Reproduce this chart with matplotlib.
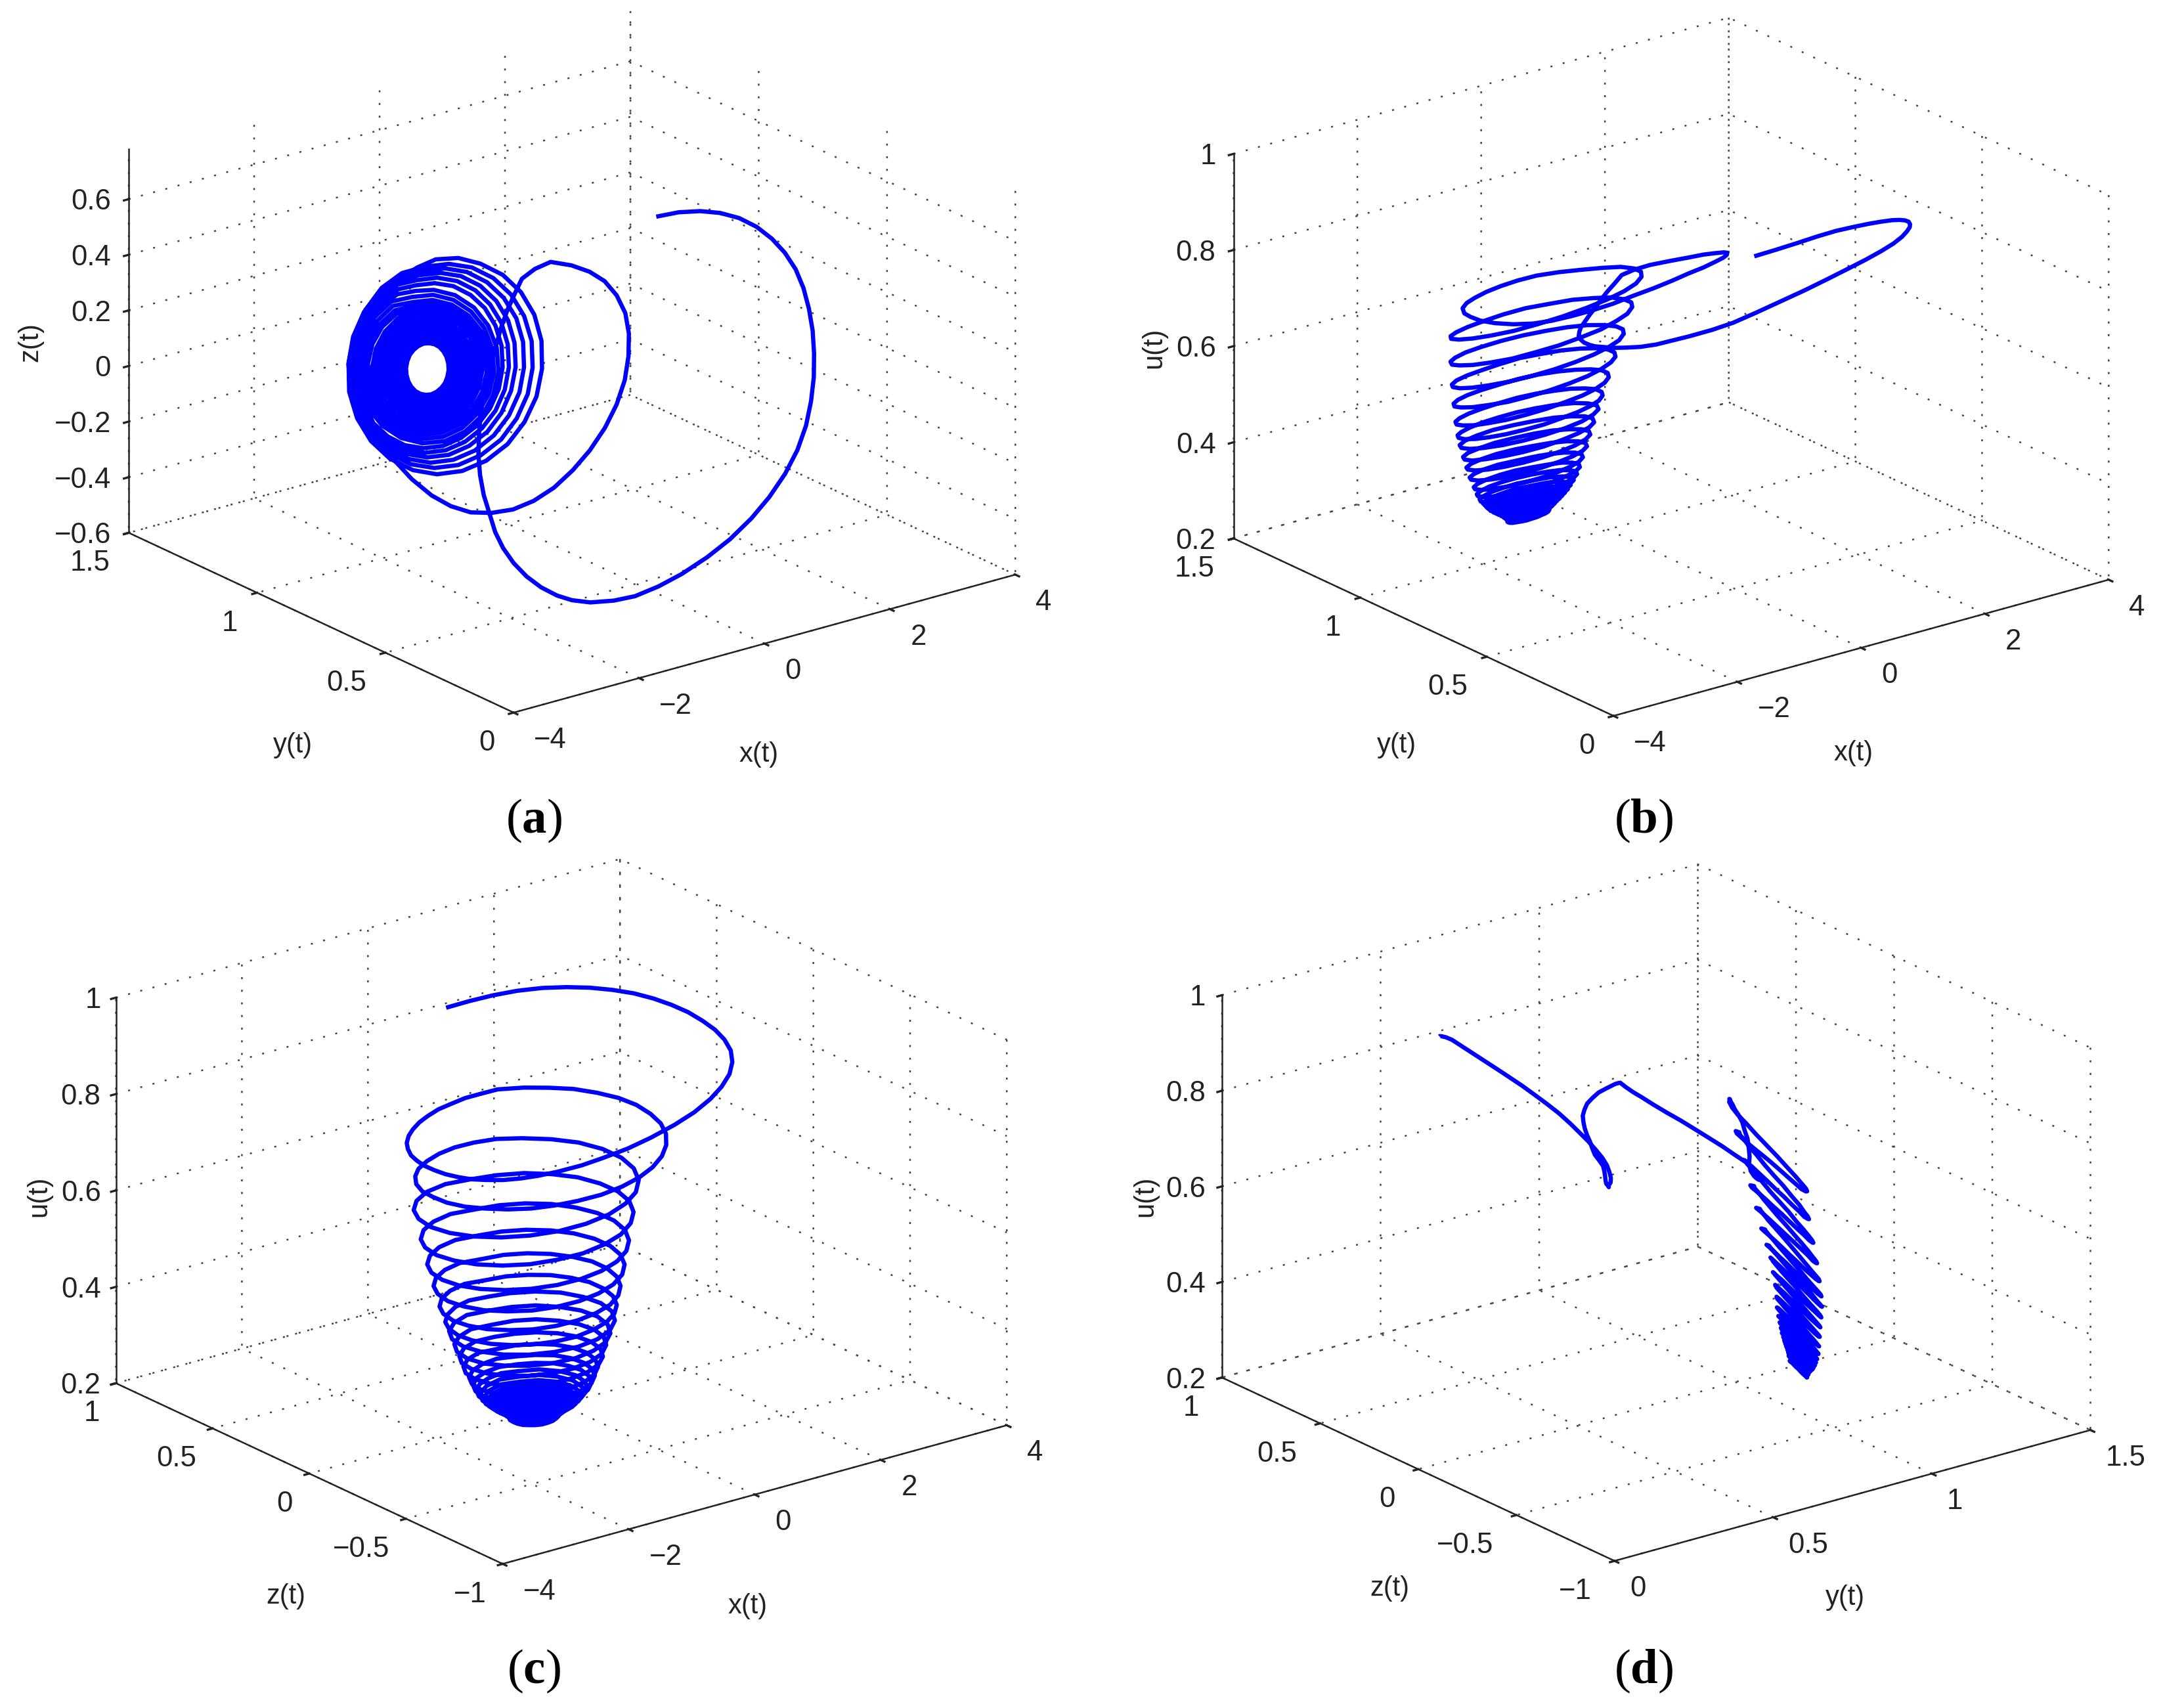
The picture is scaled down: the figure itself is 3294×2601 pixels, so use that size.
import matplotlib
matplotlib.use('Agg')
import matplotlib.pyplot as plt
from mpl_toolkits.mplot3d import Axes3D, proj3d

plt.rcParams['font.family'] = ['Liberation Sans', 'DejaVu Sans']
plt.rcParams['mathtext.fontset'] = 'custom'
plt.rcParams['mathtext.rm'] = 'Liberation Serif'
plt.rcParams['mathtext.bf'] = 'Liberation Serif:bold'

x_t = [.32,.67,1.0,1.31,1.6,1.85,2.06,2.24,2.38,2.475,2.53,2.56,2.55,2.505,2.42,2.29,2.1,1.855,1.55,1.215,.82,.405,-.05,-.465,-.88,-1.205,-1.55,-1.80,-2.0,-2.18,-2.32,-2.425,-2.49,-2.535,-2.54,-2.525,-2.47,-2.385,-2.26,-2.11,-1.92,-1.705,-1.47,-1.22,-.95,-.67,-.39,-.11,.17,
 .49,.774,1.01,1.195,1.32,1.369,1.35,1.27,1.12,.913,.65,.353,.02,-.326,-.675,-1.02,-1.33,-1.599,-1.83,-2.021,-2.15,-2.223,-2.22,-2.175,-2.06,-1.883,-1.66,-1.391,-1.09,-.777,-.45,-.13,
 .174,.475,.699,.831,.863,.79,.62,.363,.037,-.335,-.729,-1.118,-1.474,-1.775,-1.999,-2.131,-2.163,-2.09,-1.92,-1.663,-1.337,-.965,-.571,
 -.2,.139,.424,.636,.759,.788,.718,.554,.309,-.001,-.356,-.73,-1.1,-1.439,-1.724,-1.936,-2.059,-2.088,-2.018,-1.854,-1.609,-1.299,-.944,-.57,
 -.223,.099,.368,.569,.687,.713,.646,.491,.258,-.036,-.372,-.727,-1.078,-1.399,-1.668,-1.869,-1.987,-2.013,-1.946,-1.791,-1.558,-1.264,-.928,-.573,
 -.245,.058,.313,.502,.613,.638,.574,.427,.208,-.07,-.389,-.725,-1.055,-1.358,-1.613,-1.802,-1.913,-1.938,-1.874,-1.727,-1.508,-1.23,-.911,-.575,
 -.268,.021,.262,.441,.547,.57,.511,.372,.164,-.099,-.401,-.719,-1.033,-1.321,-1.562,-1.741,-1.847,-1.87,-1.811,-1.672,-1.464,-1.201,-.899,-.581,
 -.29,-.018,.21,.381,.481,.505,.448,.318,.121,-.128,-.412,-.713,-1.01,-1.282,-1.51,-1.681,-1.781,-1.805,-1.748,-1.618,-1.421,-1.172,-.888,-.587,
 -.308,-.004,.237,.391,.444,.39,.233,-.01,-.315,-.654,-.992,-1.296,-1.537,-1.691,-1.744,-1.69,-1.533,-1.29,-.985,-.646,
 -.326,-.039,.189,.335,.383,.331,.183,-.047,-.335,-.655,-.974,-1.261,-1.489,-1.635,-1.683,-1.631,-1.483,-1.253,-.965,-.646,
 -.344,-.073,.143,.28,.327,.277,.138,-.08,-.352,-.655,-.956,-1.227,-1.443,-1.58,-1.627,-1.577,-1.438,-1.22,-.948,-.646,
 -.362,-.106,.099,.229,.273,.228,.095,-.109,-.367,-.653,-.938,-1.195,-1.399,-1.529,-1.573,-1.528,-1.395,-1.191,-.933,-.647,
 -.38,-.137,.056,.179,.221,.178,.054,-.139,-.382,-.651,-.92,-1.163,-1.356,-1.479,-1.521,-1.478,-1.354,-1.161,-.918,-.649,
 -.394,-.165,.019,.133,.174,.133,.015,-.167,-.397,-.651,-.907,-1.135,-1.319,-1.433,-1.474,-1.433,-1.315,-1.133,-.903,-.649,
 -.407,-.191,-.02,.09,.127,.088,-.023,-.196,-.412,-.653,-.893,-1.109,-1.28,-1.39,-1.427,-1.388,-1.277,-1.104,-.888,-.647,
 -.425,-.178,-.004,.073,.039,-.099,-.322,-.594,-.875,-1.122,-1.296,-1.373,-1.339,-1.201,-.978,-.706,
 -.439,-.207,-.045,.026,-.007,-.136,-.344,-.599,-.862,-1.093,-1.255,-1.326,-1.294,-1.164,-.956,-.701,
 -.452,-.238,-.087,-.021,-.052,-.173,-.367,-.604,-.848,-1.062,-1.213,-1.279,-1.249,-1.127,-.933,-.696,
 -.47,-.272,-.132,-.069,-.097,-.207,-.385,-.604,-.83,-1.028,-1.168,-1.231,-1.204,-1.093,-.915,-.696,
 -.484,-.30,-.169,-.112,-.137,-.24,-.405,-.608,-.817,-1.0,-1.131,-1.188,-1.163,-1.06,-.895,-.692,
 -.497,-.328,-.208,-.154,-.178,-.272,-.424,-.61,-.803,-.972,-1.092,-1.146,-1.123,-1.028,-.876,-.69,
 -.51,-.356,-.246,-.197,-.218,-.305,-.444,-.614,-.79,-.944,-1.054,-1.103,-1.082,-.995,-.856,-.686,
 -.52,-.378,-.277,-.234,-.254,-.334,-.463,-.618,-.78,-.922,-1.023,-1.066,-1.046,-.966,-.837,-.682,
 -.529,-.365,-.277,-.29,-.4,-.575,-.772,-.935,-1.023,-1.01,-.9,-.725,
 -.538,-.459,-.395,-.349,-.321,-.317,-.335,-.375,-.434,-.507,-.59,-.677,-.763,-.841,-.905,-.952,-.979,-.983,-.965,-.925,-.866,-.793,-.71,-.623,-.538]
y_t = [.5,.498,.495,.493,.49,.483,.475,.468,.46,.453,.445,.438,.43,.42,.41,.398,.385,.373,.36,.348,.335,.322,.31,.30,.29,.293,.30,.31,.32,.338,.36,.385,.41,.43,.45,.477,.505,.532,.56,.59,.62,.655,.69,.73,.77,.81,.85,.868,.875,
 .872,.871,.87,.868,.865,.863,.86,.855,.85,.845,.84,.833,.825,.82,.815,.815,.82,.832,.85,.88,.92,.96,1.0,1.035,1.07,1.097,1.12,1.14,1.155,1.165,1.171,1.162,
 1.15,1.136,1.12,1.10,1.08,1.06,1.04,1.024,1.01,1.003,1.0,1.003,1.01,1.026,1.045,1.067,1.09,1.11,1.13,1.149,1.165,1.177,1.185,
 1.181,1.174,1.16,1.143,1.122,1.10,1.079,1.058,1.041,1.026,1.018,1.015,1.018,1.026,1.042,1.06,1.082,1.105,1.128,1.15,1.168,1.182,1.19,1.195,
 1.191,1.184,1.171,1.155,1.135,1.115,1.095,1.075,1.059,1.046,1.038,1.035,1.038,1.046,1.061,1.078,1.098,1.12,1.14,1.16,1.176,1.188,1.199,1.207,
 1.203,1.197,1.184,1.168,1.149,1.13,1.11,1.092,1.076,1.063,1.056,1.053,1.056,1.063,1.077,1.094,1.112,1.132,1.151,1.17,1.186,1.198,1.206,1.213,
 1.21,1.203,1.191,1.177,1.159,1.14,1.121,1.103,1.088,1.077,1.07,1.067,1.07,1.077,1.088,1.103,1.121,1.14,1.159,1.177,1.191,1.203,1.21,1.217,
 1.214,1.208,1.197,1.183,1.166,1.148,1.13,1.113,1.099,1.088,1.082,1.079,1.082,1.088,1.099,1.113,1.13,1.148,1.166,1.183,1.197,1.208,1.214,1.217,
 1.214,1.205,1.19,1.172,1.152,1.132,1.114,1.099,1.09,1.087,1.09,1.099,1.114,1.132,1.152,1.172,1.19,1.205,1.214,1.215,
 1.212,1.203,1.19,1.173,1.154,1.135,1.118,1.105,1.096,1.093,1.096,1.105,1.118,1.135,1.154,1.173,1.19,1.203,1.212,1.212,
 1.209,1.201,1.189,1.173,1.155,1.137,1.121,1.109,1.101,1.098,1.101,1.109,1.121,1.137,1.155,1.173,1.189,1.201,1.209,1.209,
 1.206,1.199,1.187,1.172,1.155,1.138,1.123,1.111,1.104,1.101,1.104,1.111,1.123,1.138,1.155,1.172,1.187,1.199,1.206,1.206,
 1.204,1.198,1.187,1.173,1.158,1.142,1.127,1.115,1.107,1.104,1.106,1.112,1.123,1.137,1.152,1.168,1.183,1.195,1.203,1.206,
 1.201,1.195,1.185,1.172,1.157,1.143,1.129,1.118,1.11,1.107,1.109,1.115,1.125,1.138,1.153,1.167,1.181,1.192,1.2,1.203,
 1.199,1.194,1.184,1.171,1.157,1.143,1.13,1.119,1.112,1.109,1.111,1.116,1.126,1.139,1.153,1.167,1.18,1.191,1.198,1.201,
 1.197,1.189,1.177,1.161,1.144,1.129,1.118,1.112,1.113,1.121,1.134,1.149,1.166,1.181,1.192,1.198,
 1.194,1.187,1.175,1.16,1.145,1.131,1.12,1.115,1.116,1.123,1.135,1.15,1.165,1.179,1.19,1.195,
 1.192,1.185,1.174,1.16,1.145,1.132,1.122,1.117,1.118,1.125,1.136,1.15,1.165,1.178,1.188,1.193,
 1.189,1.183,1.173,1.16,1.146,1.134,1.125,1.12,1.121,1.127,1.138,1.15,1.164,1.176,1.185,1.19,
 1.186,1.18,1.171,1.159,1.147,1.136,1.127,1.123,1.124,1.13,1.139,1.151,1.163,1.174,1.183,1.187,
 1.184,1.179,1.17,1.159,1.147,1.137,1.129,1.125,1.126,1.131,1.14,1.151,1.163,1.173,1.181,1.185,
 1.182,1.177,1.169,1.159,1.148,1.138,1.131,1.127,1.128,1.133,1.141,1.151,1.162,1.172,1.179,1.183,
 1.18,1.176,1.168,1.158,1.148,1.139,1.132,1.129,1.13,1.134,1.142,1.152,1.162,1.171,1.178,1.181,
 1.178,1.172,1.161,1.149,1.138,1.132,1.132,1.138,1.149,1.161,1.172,1.178,
 1.176,1.174,1.171,1.166,1.161,1.155,1.149,1.144,1.139,1.136,1.134,1.133,1.134,1.136,1.139,1.144,1.149,1.155,1.161,1.166,1.171,1.174,1.176,1.177,1.176]
z_t = [.70,.695,.68,.655,.62,.576,.524,.465,.40,.33,.255,.178,.10,.022,-.055,-.13,-.20,-.265,-.324,-.375,-.42,-.453,-.48,-.495,-.50,-.497,-.485,-.466,-.441,-.408,-.37,-.326,-.279,-.227,-.172,-.115,-.058,0,.057,.112,.164,.212,.255,.293,.326,.35,.37,.38,.385,
 .354,.314,.266,.204,.134,.058,-.021,-.10,-.176,-.245,-.308,-.357,-.396,-.42,-.427,-.418,-.399,-.365,-.32,-.263,-.201,-.132,-.061,.01,.079,.142,.198,.242,.277,.298,.305,.294,
 .26,.207,.138,.057,-.03,-.117,-.198,-.267,-.32,-.354,-.365,-.354,-.32,-.267,-.198,-.117,-.03,.057,.138,.207,.26,.285,.28,
 .269,.238,.188,.123,.047,-.035,-.117,-.193,-.258,-.308,-.339,-.35,-.339,-.308,-.258,-.193,-.117,-.035,.047,.123,.188,.238,.265,.26,
 .25,.22,.172,.11,.038,-.04,-.118,-.19,-.252,-.30,-.33,-.34,-.33,-.30,-.252,-.19,-.118,-.04,.038,.11,.172,.22,.246,.24,
 .23,.202,.157,.098,.029,-.045,-.119,-.188,-.247,-.292,-.32,-.33,-.32,-.292,-.247,-.188,-.119,-.045,.029,.098,.157,.202,.228,.22,
 .211,.184,.141,.085,.02,-.05,-.12,-.185,-.241,-.284,-.311,-.32,-.311,-.284,-.241,-.185,-.12,-.05,.02,.085,.141,.184,.208,.20,
 .191,.166,.125,.073,.011,-.055,-.121,-.183,-.235,-.276,-.301,-.31,-.301,-.276,-.235,-.183,-.121,-.055,.011,.073,.125,.166,.188,.18,
 .168,.134,.081,.014,-.06,-.134,-.201,-.254,-.288,-.30,-.288,-.254,-.201,-.134,-.06,.014,.081,.134,.168,.163,
 .152,.12,.07,.008,-.062,-.132,-.194,-.244,-.276,-.287,-.276,-.244,-.194,-.132,-.062,.008,.07,.12,.152,.146,
 .136,.106,.059,.001,-.064,-.129,-.187,-.234,-.264,-.274,-.264,-.234,-.187,-.129,-.064,.001,.059,.106,.136,.134,
 .124,.096,.052,-.004,-.066,-.128,-.184,-.228,-.256,-.266,-.256,-.228,-.184,-.128,-.066,-.004,.052,.096,.124,.122,
 .116,.091,.052,0,-.058,-.117,-.172,-.216,-.245,-.258,-.252,-.227,-.188,-.136,-.078,-.019,.036,.08,.109,.122,
 .104,.081,.043,-.006,-.061,-.117,-.168,-.21,-.238,-.25,-.244,-.221,-.183,-.134,-.079,-.023,.028,.07,.098,.11,
 .094,.073,.037,-.009,-.061,-.114,-.163,-.202,-.229,-.24,-.234,-.213,-.177,-.131,-.079,-.026,.023,.062,.089,.1,
 .085,.057,.01,-.049,-.111,-.167,-.209,-.229,-.225,-.197,-.15,-.091,-.029,.027,.069,.089,
 .075,.049,.005,-.05,-.109,-.161,-.2,-.219,-.215,-.189,-.145,-.09,-.031,.021,.06,.079,
 .065,.041,0,-.052,-.106,-.155,-.191,-.209,-.205,-.181,-.14,-.088,-.034,.015,.051,.069,
 .056,.033,-.005,-.053,-.104,-.149,-.183,-.199,-.196,-.173,-.135,-.087,-.036,.009,.043,.059,
 .046,.025,-.01,-.054,-.101,-.143,-.174,-.189,-.186,-.165,-.13,-.086,-.039,.003,.034,.049,
 .038,.019,-.014,-.055,-.099,-.138,-.167,-.181,-.178,-.159,-.126,-.085,-.041,-.002,.027,.041,
 .029,.012,-.019,-.057,-.097,-.133,-.159,-.172,-.169,-.152,-.122,-.083,-.043,-.007,.019,.032,
 .023,.006,-.022,-.058,-.095,-.128,-.153,-.165,-.163,-.146,-.118,-.083,-.045,-.012,.013,.025,
 .017,-.006,-.047,-.093,-.134,-.157,-.157,-.134,-.093,-.047,-.006,.017,
 .007,-.001,-.013,-.03,-.049,-.07,-.091,-.11,-.127,-.139,-.147,-.15,-.147,-.139,-.127,-.11,-.091,-.07,-.049,-.03,-.013,-.001,.007,.01,.007]
u_t = [.88,.882,.885,.888,.89,.891,.892,.892,.892,.891,.89,.888,.885,.883,.88,.876,.872,.868,.864,.86,.855,.85,.845,.84,.836,.832,.829,.826,.823,.82,.818,.815,.813,.811,.809,.807,.805,.802,.80,.797,.795,.792,.79,.787,.785,.782,.78,.777,.775,
 .773,.77,.768,.765,.763,.761,.758,.756,.754,.751,.749,.746,.744,.742,.739,.737,.735,.732,.73,.728,.725,.723,.721,.718,.716,.714,.711,.709,.707,.705,.702,.70,
 .697,.694,.692,.689,.686,.683,.68,.677,.675,.672,.669,.666,.663,.66,.657,.654,.651,.649,.646,.643,.64,.638,.635,
 .632,.63,.627,.625,.622,.62,.618,.615,.613,.61,.608,.605,.603,.6,.598,.596,.594,.591,.589,.586,.584,.581,.579,.576,
 .574,.572,.57,.567,.565,.563,.561,.558,.556,.554,.552,.55,.548,.546,.544,.542,.54,.538,.536,.534,.532,.53,.528,.526,
 .524,.522,.52,.518,.516,.514,.512,.51,.508,.506,.504,.502,.5,.498,.497,.495,.494,.492,.491,.489,.487,.485,.483,.481,
 .48,.478,.476,.474,.473,.471,.469,.467,.465,.463,.462,.46,.458,.456,.455,.453,.452,.45,.449,.447,.446,.444,.443,.441,
 .44,.438,.437,.435,.434,.432,.431,.429,.428,.427,.426,.424,.423,.422,.421,.42,.419,.418,.417,.415,.414,.413,.412,.411,
 .41,.409,.408,.406,.405,.404,.403,.401,.40,.399,.398,.397,.396,.395,.394,.393,.392,.39,.389,.387,
 .385,.384,.382,.381,.38,.378,.377,.376,.375,.373,.372,.371,.37,.368,.367,.366,.365,.363,.362,.361,
 .36,.359,.357,.356,.355,.354,.353,.351,.35,.349,.348,.347,.346,.345,.344,.342,.341,.34,.339,.338,
 .336,.335,.334,.333,.332,.331,.33,.329,.328,.327,.325,.324,.323,.322,.321,.32,.319,.318,.317,.315,
 .314,.313,.312,.311,.31,.309,.308,.307,.306,.305,.304,.303,.302,.301,.30,.299,.298,.297,.296,.295,
 .294,.293,.293,.292,.291,.29,.29,.289,.288,.287,.287,.286,.285,.284,.284,.283,.282,.282,.281,.28,
 .28,.279,.279,.278,.278,.277,.276,.275,.275,.274,.273,.273,.272,.272,.271,.271,.27,.27,.269,.269,
 .268,.268,.267,.267,.266,.265,.265,.264,.263,.263,.262,.262,.261,.261,.26,.26,
 .259,.259,.258,.258,.257,.257,.256,.256,.255,.255,.254,.254,.253,.253,.252,.252,
 .251,.251,.25,.25,.25,.25,.249,.249,.248,.248,.247,.247,.247,.247,.246,.246,
 .245,.245,.245,.245,.244,.244,.243,.243,.243,.243,.242,.242,.242,.242,.241,.241,
 .24,.24,.24,.24,.239,.239,.239,.239,.238,.238,.238,.238,.237,.237,.237,.237,
 .236,.236,.236,.236,.235,.235,.235,.235,.234,.234,.234,.234,.233,.233,.233,.233,
 .232,.232,.232,.232,.231,.231,.231,.231,.23,.23,.23,.23,.229,.229,.229,.229,
 .228,.228,.228,.228,.227,.227,.227,.227,.226,.226,.226,.226,.225,.225,.225,.225,
 .224,.224,.223,.223,.222,.222,.221,.221,.22,.22,.219,.219,
 .218,.218,.217,.217,.217,.216,.216,.215,.215,.215,.214,.214,.213,.213,.213,.212,.212,.212,.211,.211,.211,.21,.21,.21,.21]

x_ticks = [-4, -2, 0, 2, 4]
x_labels = ['−4', '−2', '0', '2', '4']
y_ticks = [0, 0.5, 1, 1.5]
y_labels = ['0', '0.5', '1', '1.5']
z_ticks = [-0.6, -0.4, -0.2, 0, 0.2, 0.4, 0.6]
z_labels = ['−0.6', '−0.4', '−0.2', '0', '0.2', '0.4', '0.6']
z2_ticks = [-1, -0.5, 0, 0.5, 1]
z2_labels = ['−1', '−0.5', '0', '0.5', '1']
u_ticks = [0.2, 0.4, 0.6, 0.8, 1]
u_labels = ['0.2', '0.4', '0.6', '0.8', '1']

W, H = 3295, 2601
S = 3295 / 1568
fig = plt.figure(figsize=(W/300, H/300), dpi=300, facecolor='white')
INK = '#222222'

def panel(cx, cy, size, aspect, a, b, c, lims, ticks, labels, names, name_xy, caption, capxy,
          xoff=(31, -38), yoff=(-29, -42), zoff=-27):
    ax = fig.add_axes([(cx-size/2)/W, 1-(cy+size/2)/H, size/W, size/H], projection='3d')
    ax.set_proj_type('ortho')
    ax.view_init(elev=21, azim=-127.5)
    ax.set_box_aspect(aspect, zoom=1.0)
    ax.patch.set_alpha(0)
    ax.plot(a, b, c, color='#0000ff', lw=1.55, solid_joinstyle='round', solid_capstyle='butt')
    ax.set_xlim(lims[0]); ax.set_ylim(lims[1]); ax.set_zlim(lims[2])
    ax.set_xticks(ticks[0], [''] * len(ticks[0]))
    ax.set_yticks(ticks[1], [''] * len(ticks[1]))
    ax.set_zticks(ticks[2], [''] * len(ticks[2]))
    for axis in (ax.xaxis, ax.yaxis, ax.zaxis):
        axis.set_pane_color((1, 1, 1, 0))
        axis.pane.set_edgecolor((0, 0, 0, 0))
        axis.line.set_color(INK)
        axis.line.set_linewidth(0.6)
        axis._axinfo['grid'].update(color='#444444', linewidth=0.6, linestyle=(0, (1.2, 6.5)))
        axis._axinfo['tick'].update(inward_factor=0.12, outward_factor=0.0)
    ax.tick_params(pad=0, width=0.6, length=2, colors=INK)
    M = ax.get_proj()
    a0, b0, c0 = lims[0][0], lims[1][0], lims[2][0]
    b1 = lims[1][1]
    def mark(px, py, pz, s, off, ha):
        X, Y, _ = proj3d.proj_transform(px, py, pz, M)
        ax.annotate(s, xy=(X, Y), xycoords='data', xytext=off, textcoords='offset pixels',
                    ha=ha, va='center_baseline', fontsize=10.5, color=INK, annotation_clip=False)
    for v, s in zip(ticks[0], labels[0]):
        mark(v, b0, c0, s, xoff, 'left')
    for v, s in zip(ticks[1], labels[1]):
        mark(a0, v, c0, s, yoff, 'right')
    for v, s in zip(ticks[2], labels[2]):
        mark(a0, b1, v, s, (zoff, 0), 'right')
    for (nx, ny), s, rot in zip(name_xy, names, (0, 0, 90)):
        fig.text(nx*S/W, 1-ny*S/H, s, fontsize=10, ha='center', va='center', rotation=rot, color=INK)
    fig.text(capxy[0]/W, 1-capxy[1]/H, caption, fontsize=18, ha='center', va='center', color='black')
    return ax

A = (1, 1, 0.65)
panel(851.5, 570.7, 1455, A, x_t, y_t, z_t, [(-4, 4), (0, 1.5), (-0.6, 0.78)],
      (x_ticks, y_ticks, z_ticks), (x_labels, y_labels, z_labels), ('x(t)', 'y(t)', 'z(t)'),
      ((550, 547), (212, 540), (22, 248)),
      r'$\mathrm{(}\mathbf{a}\mathrm{)}$', (813, 1250))
panel(2525.5, 578, 1440, (1, 1, 0.66), x_t, y_t, u_t, [(-4, 4), (0, 1.5), (0.2, 1)],
      (x_ticks, y_ticks, u_ticks), (x_labels, y_labels, u_labels), ('x(t)', 'y(t)', 'u(t)'),
      ((1343, 546), (1012, 540), (836, 252)),
      r'$\mathrm{(}\mathbf{b}\mathrm{)}$', (2503, 1250))
panel(835.1, 1864.6, 1462, A, x_t, z_t, u_t, [(-4, 4), (-1, 1), (0.2, 1)],
      (x_ticks, z2_ticks, u_ticks), (x_labels, z2_labels, u_labels), ('x(t)', 'z(t)', 'u(t)'),
      ((542, 1164), (207, 1157), (28, 867)),
      r'$\mathrm{(}\mathbf{c}\mathrm{)}$', (813, 2545), yoff=(-25, -42), zoff=-23)
panel(2502.8, 1866, 1436, (0.93, 1, 0.635), y_t, z_t, u_t, [(0, 1.5), (-1, 1), (0.2, 1)],
      (y_ticks, z2_ticks, u_ticks), (y_labels, z2_labels, u_labels), ('y(t)', 'z(t)', 'u(t)'),
      ((1337, 1158), (1007, 1151), (830, 867)),
      r'$\mathrm{(}\mathbf{d}\mathrm{)}$', (2503, 2545), xoff=(23, -38), yoff=(-35, -42), zoff=-25)
plt.savefig('out.png', dpi=300)
